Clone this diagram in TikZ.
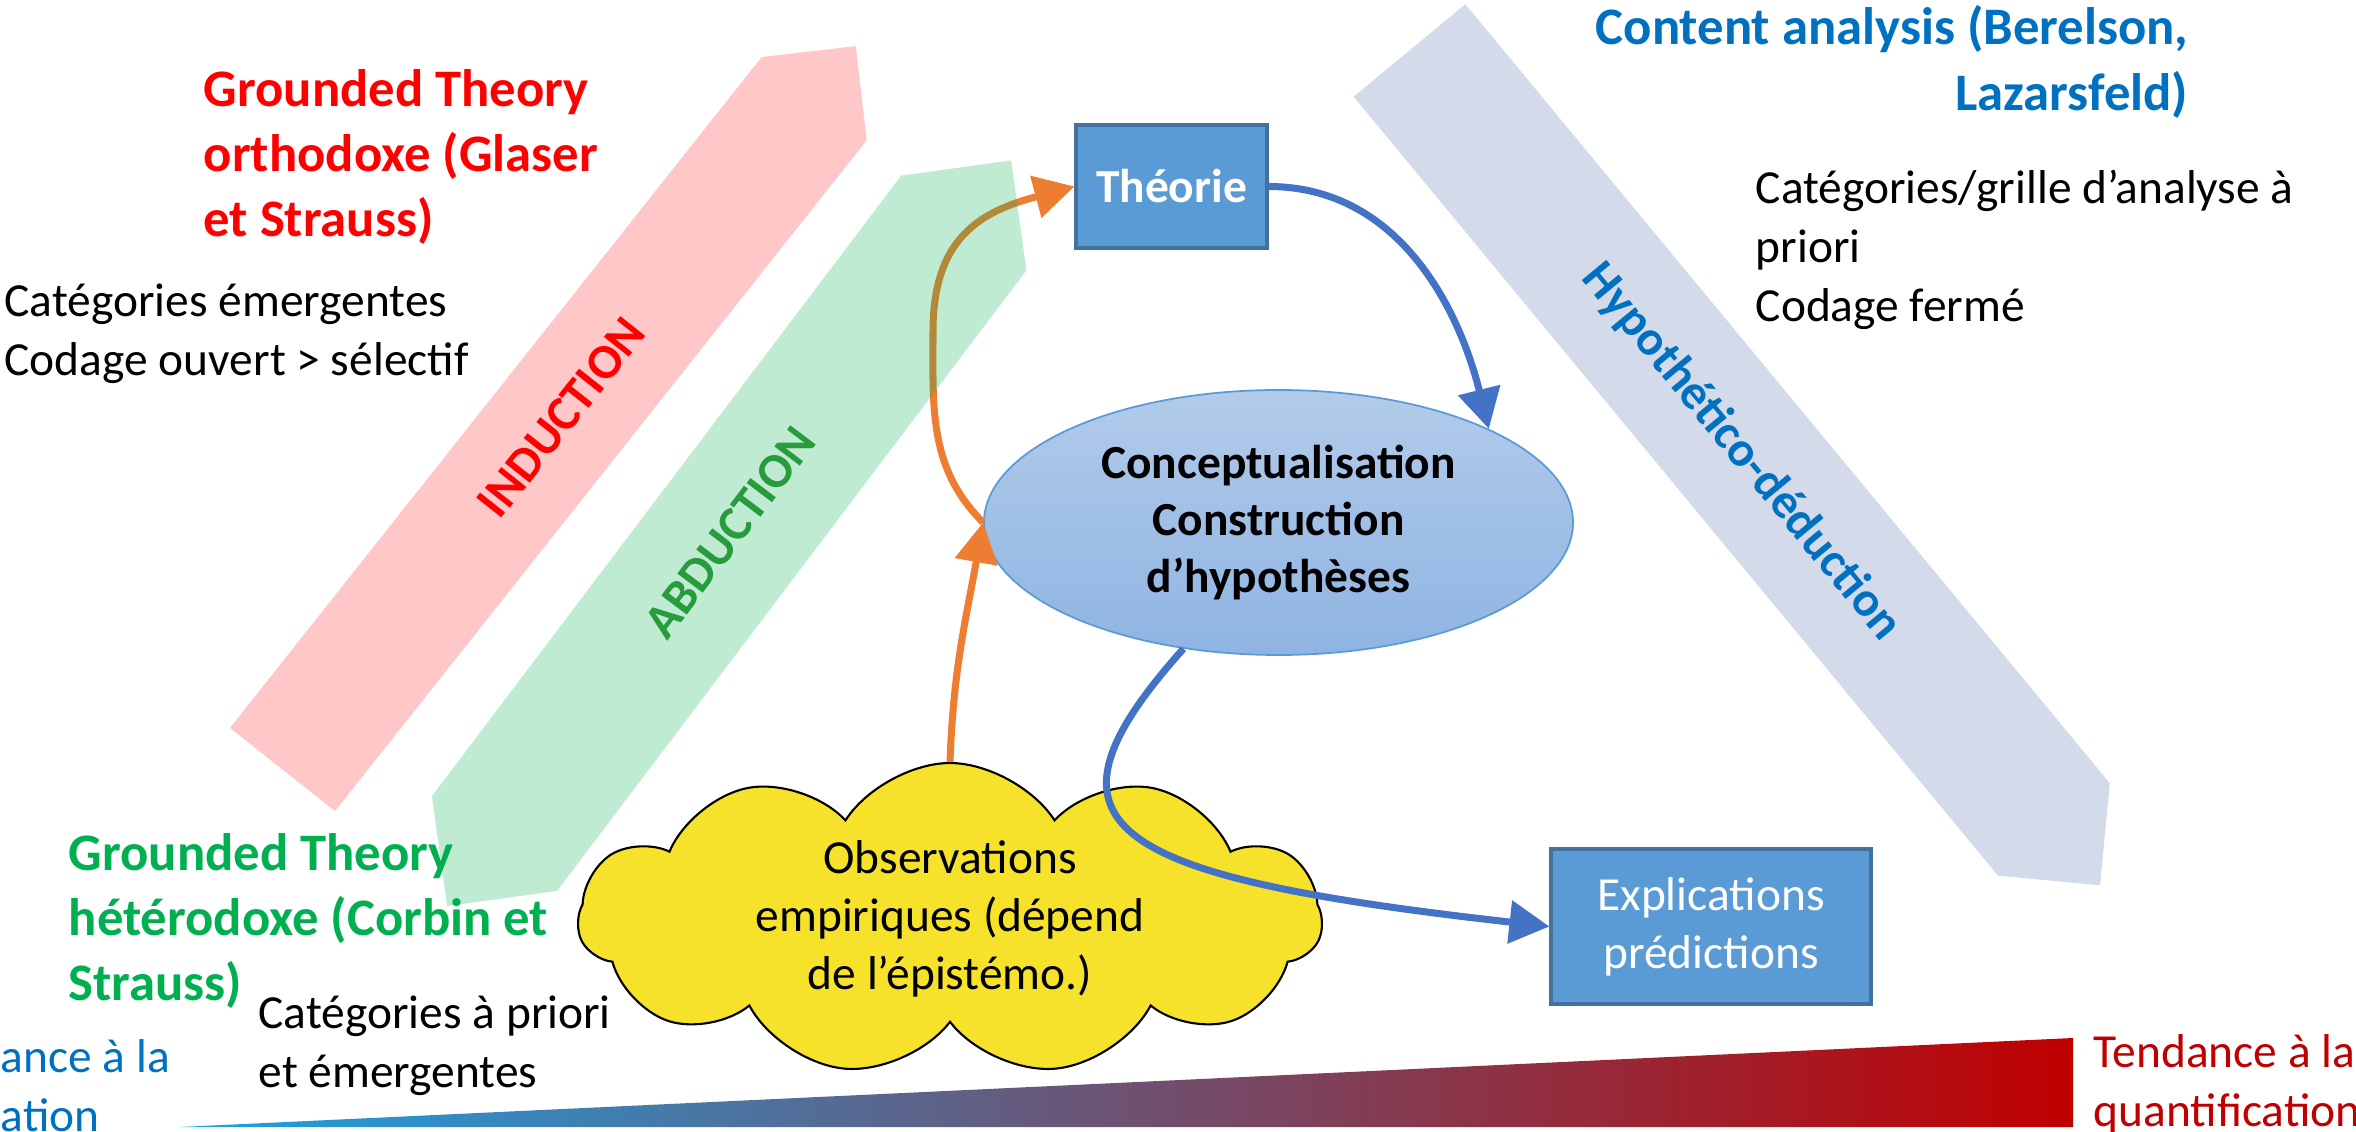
\documentclass[tikz,border=0pt]{standalone}
\usepackage{fontspec}
\setmainfont{Carlito}
\usepackage{xcolor}
\usetikzlibrary{arrows.meta,shapes.geometric,shapes.symbols}

\definecolor{indred}{RGB}{255,0,0}
\definecolor{indpink}{RGB}{255,199,199}
\definecolor{abgreen}{RGB}{0,176,80}
\definecolor{abdark}{RGB}{40,155,60}
\definecolor{hyplav}{RGB}{211,218,233}
\definecolor{hypblue}{RGB}{0,112,192}
\definecolor{boxblue}{RGB}{91,155,213}
\definecolor{boxedge}{RGB}{65,113,156}
\definecolor{arrowblue}{RGB}{68,114,196}
\definecolor{arroworange}{RGB}{237,125,49}
\definecolor{obsyellow}{RGB}{246,226,42}
\definecolor{ellipsetop}{RGB}{178,203,234}
\definecolor{ellipsebot}{RGB}{143,180,226}
\definecolor{quantred}{RGB}{192,0,0}
\definecolor{qualblue}{RGB}{27,163,227}

\begin{document}
\begin{tikzpicture}[
    font=\fontsize{13.5}{16.8}\selectfont,
    heading/.style={font=\bfseries\fontsize{15}{18.6}\selectfont, align=left, inner sep=0pt},
    note/.style={align=left, inner sep=0pt},
    bandlabel/.style={font=\bfseries\fontsize{14}{17}\selectfont, inner sep=0pt},
    bluebox/.style={draw=boxedge, line width=0.9pt, fill=boxblue, text=white, align=center},
    arrow/.style={-{Triangle[length=4mm,width=4.2mm]}, line width=2pt}
  ]
  \useasboundingbox (0,0) rectangle (23.56,11.31);

  % tendency wedge
  \shade[left color=qualblue, right color=quantred] (1.80,0.04) -- (20.73,0.93) -- (20.73,0.04) -- cycle;

  % induction band
  \begin{scope}[shift={(2.825,3.615)}, rotate=51.6]
    \fill[indpink] (0,-0.67) -- (8.56,-0.67) -- (9.23,0) -- (8.56,0.67) -- (0,0.67) -- cycle;
    \node[bandlabel, text=indred, rotate=51.6] (ind) at (4.49,0) {INDUCTION};
  \end{scope}

  % hypothetico-deduction band
  \begin{scope}[shift={(14.095,10.805)}, rotate=-50.4]
    \fill[hyplav] (0,-0.725) -- (10.11,-0.725) -- (10.835,0) -- (10.11,0.725) -- (0,0.725) -- cycle;
    \node[bandlabel, text=hypblue, rotate=-50.4] (hyp) at (5.21,0) {Hypothético-déduction};
  \end{scope}

  % main nodes
  \node[bluebox, minimum width=1.91cm, minimum height=1.23cm, font=\bfseries\fontsize{13.5}{16}\selectfont] (theo) at (11.715,9.445) {Théorie};
  \node[ellipse, draw=boxblue, line width=0.5pt, top color=ellipsetop, bottom color=ellipsebot,
        minimum width=5.89cm, minimum height=2.65cm, inner sep=0pt, align=center,
        font=\bfseries\fontsize{13.5}{16.3}\selectfont] (concept) at (12.785,6.085) {Conceptualisation\\Construction\\d’hypothèses};
  \node[cloud, draw=black, line width=0.6pt, fill=obsyellow, cloud puffs=11, cloud puff arc=115, aspect=2.5,
        minimum width=7.44cm, minimum height=3.12cm, inner sep=0pt, align=center,
        font=\fontsize{13.5}{16.5}\selectfont] (obs) at (9.50,2.12) {Observations\\empiriques (dépend\\de l’épistémo.)};
  \node[bluebox, minimum width=3.2cm, minimum height=1.55cm, font=\fontsize{13.5}{16.5}\selectfont] (expl) at (17.11,2.045) {Explications\\prédictions};

  % orange arrows, under the abduction band
  \coordinate (bend) at (9.33,8.0);
  \draw[arrow, arroworange] (obs.north) to[out=88,in=-100] (concept.west);
  \draw[arrow, arroworange] (concept.west) to[out=135,in=-90] (bend) to[out=90,in=195,looseness=1.2] (theo.west);

  % abduction band
  \begin{scope}[shift={(4.945,2.875)}, rotate=52.9]
    \fill[abgreen, fill opacity=0.25] (-0.785,0) -- (0,-0.785) -- (7.78,-0.785) -- (8.565,0) -- (7.78,0.785) -- (0,0.785) -- cycle;
    \node[bandlabel, text=abdark, rotate=52.9] (abd) at (3.9,0) {ABDUCTION};
  \end{scope}

  % blue arrows
  \draw[arrow, arrowblue] (theo.east) to[out=0,in=104] (concept.24);
  \draw[arrow, arrowblue] (concept.-127) .. controls (10.25,3.05) and (11.0,2.55) .. (expl.west);

  % texts
  \node[heading, text=indred, anchor=west] (gtortho) at (2.03,9.74) {Grounded Theory\\orthodoxe (Glaser\\et Strauss)};
  \node[note, anchor=west] (catemerg) at (0.04,7.97) {Catégories émergentes\\Codage ouvert > sélectif};
  \node[heading, text=abgreen, anchor=west] (gthetero) at (0.68,2.10) {Grounded Theory\\hétérodoxe (Corbin et\\Strauss)};
  \node[note, anchor=west] (catprio) at (2.58,0.85) {Catégories à priori\\et émergentes};
  \node[note, text=hypblue, anchor=west] (qual) at (0,0.45) {ance à la\\ation};
  \node[note, text=quantred, anchor=west] (quant) at (20.93,0.47) {Tendance à la\\quantification};
  \node[heading, text=hypblue, align=right, anchor=east] (content) at (21.89,10.69) {Content analysis (Berelson,\\Lazarsfeld)};
  \node[note, anchor=west] (grille) at (17.55,8.81) {Catégories/grille d’analyse à\\priori\\Codage fermé};
\end{tikzpicture}
\end{document}
